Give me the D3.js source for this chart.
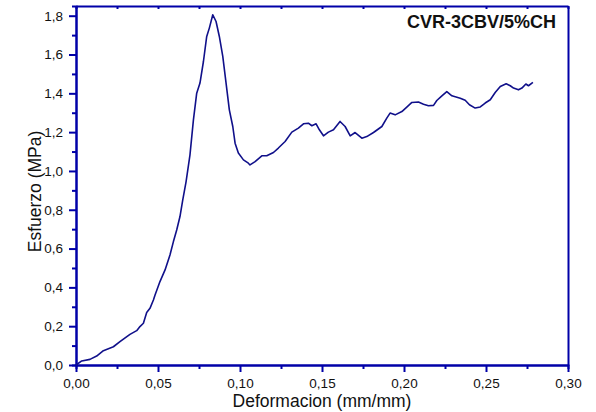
<!DOCTYPE html>
<html>
<head>
<meta charset="utf-8">
<script src="https://cdn.jsdelivr.net/npm/d3@7"></script>
<style>
  html, body { margin: 0; padding: 0; background: #fff; }
  svg { display: block; font-family: "Liberation Sans", Arial, sans-serif; }
</style>
</head>
<body>
<svg id="chart" width="596" height="412"></svg>
<script>
// Stress–strain curve, sample CVR-3CBV/5%CH
const strain = [
  0.0000, 0.0035, 0.0085, 0.0126, 0.0167, 0.0228, 0.0268, 0.0329, 0.0370, 0.0390,
  0.0411, 0.0431, 0.0451, 0.0472, 0.0482, 0.0512, 0.0543, 0.0573, 0.0594, 0.0614,
  0.0634, 0.0651, 0.0671, 0.0695, 0.0716, 0.0736, 0.0756, 0.0777, 0.0797, 0.0813,
  0.0834, 0.0854, 0.0874, 0.0895, 0.0915, 0.0935, 0.0956, 0.0970, 0.0990, 0.1021,
  0.1051, 0.1061, 0.1092, 0.1133, 0.1163, 0.1204, 0.1234, 0.1275, 0.1316, 0.1356,
  0.1387, 0.1417, 0.1438, 0.1464, 0.1484, 0.1509, 0.1539, 0.1570, 0.1610, 0.1641,
  0.1672, 0.1702, 0.1743, 0.1773, 0.1814, 0.1865, 0.1895, 0.1915, 0.1946, 0.1987,
  0.2017, 0.2048, 0.2088, 0.2119, 0.2149, 0.2180, 0.2200, 0.2231, 0.2261, 0.2292,
  0.2343, 0.2373, 0.2399, 0.2434, 0.2465, 0.2495, 0.2526, 0.2556, 0.2587, 0.2623,
  0.2648, 0.2668, 0.2698, 0.2719, 0.2743, 0.2759, 0.2786
];
const stress = [
  0.000, 0.021, 0.029, 0.046, 0.074, 0.094, 0.120, 0.158, 0.177, 0.198,
  0.215, 0.270, 0.292, 0.335, 0.361, 0.430, 0.490, 0.567, 0.636, 0.696,
  0.765, 0.851, 0.944, 1.083, 1.263, 1.401, 1.453, 1.564, 1.693, 1.736,
  1.805, 1.770, 1.693, 1.590, 1.453, 1.315, 1.229, 1.143, 1.092, 1.057,
  1.040, 1.031, 1.048, 1.078, 1.078, 1.095, 1.118, 1.152, 1.200, 1.221,
  1.243, 1.246, 1.233, 1.243, 1.212, 1.181, 1.200, 1.212, 1.255, 1.229,
  1.181, 1.198, 1.169, 1.177, 1.198, 1.229, 1.272, 1.298, 1.289, 1.306,
  1.329, 1.353, 1.355, 1.344, 1.336, 1.338, 1.363, 1.387, 1.409, 1.387,
  1.375, 1.364, 1.341, 1.324, 1.330, 1.350, 1.367, 1.404, 1.435, 1.449,
  1.439, 1.427, 1.418, 1.427, 1.448, 1.439, 1.456
];
const xTicks = [0, 0.05, 0.10, 0.15, 0.20, 0.25, 0.30];
const yTicks = [0, 0.2, 0.4, 0.6, 0.8, 1.0, 1.2, 1.4, 1.6, 1.8];
const xMinor = [0.025, 0.075, 0.125, 0.175, 0.225, 0.275];
const yMinor = [0.1, 0.3, 0.5, 0.7, 0.9, 1.1, 1.3, 1.5, 1.7];
const title = "CVR-3CBV/5%CH";
const xTitle = "Deformacion (mm/mm)";
const yTitle = "Esfuerzo (MPa)";

const axisColor = "#0000a8";
const lineColor = "#10108a";
const plotLeft = 76, plotRight = 568, plotTop = 6, plotBottom = 365;

const svg = d3.select("#chart");
const x = d3.scaleLinear().domain([0, 0.30]).range([plotLeft, plotRight]);
const y = d3.scaleLinear().domain([0, 1.85]).range([plotBottom, plotTop]);
const fmt = d => d3.format(".2f")(d).replace(".", ",");
const fmtY = d => d3.format(".1f")(d).replace(".", ",");

function styleAxis(g) {
  g.select(".domain").attr("stroke", axisColor).attr("stroke-width", 2);
  g.selectAll(".tick line").attr("stroke", axisColor).attr("stroke-width", 2);
  g.selectAll(".tick text").attr("fill", "#111").attr("font-size", 13.5);
}

// minor ticks
svg.append("g").attr("transform", `translate(0,${plotBottom})`)
  .call(d3.axisBottom(x).tickValues(xMinor).tickSize(4).tickFormat(""))
  .call(styleAxis);
svg.append("g").attr("transform", `translate(${plotLeft},0)`)
  .call(d3.axisLeft(y).tickValues(yMinor).tickSize(4).tickFormat(""))
  .call(styleAxis);

// top ticks pointing inward, right frame without ticks
svg.append("g").attr("transform", `translate(0,${plotTop})`)
  .call(d3.axisTop(x).tickValues(xTicks.concat(xMinor)).tickSize(-3).tickFormat("").tickSizeOuter(0))
  .call(styleAxis);
svg.append("g").attr("transform", `translate(${plotRight},0)`)
  .call(d3.axisRight(y).tickValues([]).tickSizeOuter(0))
  .call(styleAxis);

// major axes
svg.append("g").attr("transform", `translate(0,${plotBottom})`)
  .call(d3.axisBottom(x).tickValues(xTicks).tickSize(7).tickPadding(6).tickFormat(fmt).tickSizeOuter(0))
  .call(styleAxis);
svg.append("g").attr("transform", `translate(${plotLeft},0)`)
  .call(d3.axisLeft(y).tickValues(yTicks).tickSize(7).tickPadding(6).tickFormat(fmtY).tickSizeOuter(0))
  .call(styleAxis);

// curve
const pts = strain.map((s, i) => [s, stress[i]]);
svg.append("path")
  .datum(pts)
  .attr("fill", "none")
  .attr("stroke", lineColor)
  .attr("stroke-width", 1.6)
  .attr("stroke-linejoin", "round")
  .attr("d", d3.line().x(d => x(d[0])).y(d => y(d[1])));

// titles
svg.append("text")
  .attr("x", 556).attr("y", 28)
  .attr("text-anchor", "end")
  .attr("font-size", 18).attr("font-weight", "bold").attr("fill", "#111")
  .text(title);
svg.append("text")
  .attr("x", (plotLeft + plotRight) / 2).attr("y", 406.5)
  .attr("text-anchor", "middle")
  .attr("font-size", 17.5).attr("fill", "#111")
  .text(xTitle);
svg.append("text")
  .attr("transform", `translate(41,${(plotTop + plotBottom) / 2 + 6}) rotate(-90)`)
  .attr("text-anchor", "middle")
  .attr("font-size", 17.5).attr("fill", "#111")
  .text(yTitle);
</script>
</body>
</html>
